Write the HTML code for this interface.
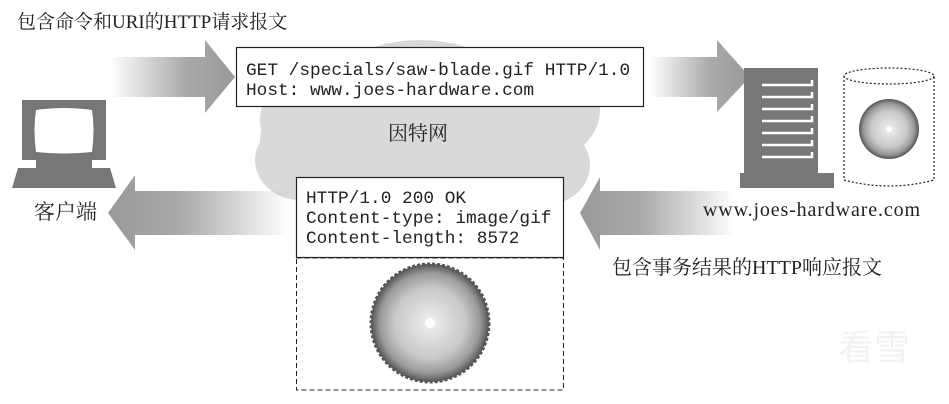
<!DOCTYPE html>
<html><head><meta charset="utf-8"><style>
html,body{margin:0;padding:0;background:#fff;}
svg{display:block;}
.s{font-family:"Liberation Serif","Noto Serif CJK SC",serif;fill:#222;}
.m{font-family:"Liberation Mono",monospace;font-size:17.8px;fill:#222;}
</style></head><body>
<svg width="949" height="404" viewBox="0 0 949 404" xmlns="http://www.w3.org/2000/svg">
<defs>
<linearGradient id="gr" x1="0" x2="1"><stop offset="0" stop-color="#aaa" stop-opacity="0"/><stop offset="0.6" stop-color="#aaa"/><stop offset="1" stop-color="#999"/></linearGradient>
<linearGradient id="gl" x1="1" x2="0"><stop offset="0" stop-color="#aaa" stop-opacity="0"/><stop offset="0.6" stop-color="#aaa"/><stop offset="1" stop-color="#999"/></linearGradient>
<radialGradient id="saw" cx="0.5" cy="0.5" r="0.5"><stop offset="0" stop-color="#f0f0f0"/><stop offset="0.6" stop-color="#c8c8c8"/><stop offset="0.85" stop-color="#999"/><stop offset="1" stop-color="#555"/></radialGradient>
</defs>
<text class="s" x="17" y="28" font-size="19">包含命令和URI的HTTP请求报文</text>
<!-- cloud -->
<g fill="#d9d9d9">
<ellipse cx="420" cy="140" rx="160" ry="70"/>
<ellipse cx="330" cy="120" rx="70" ry="55"/>
<ellipse cx="420" cy="90" rx="90" ry="50"/>
<ellipse cx="530" cy="110" rx="70" ry="55"/>
<ellipse cx="300" cy="160" rx="45" ry="40"/>
<ellipse cx="545" cy="165" rx="45" ry="40"/>
<ellipse cx="420" cy="190" rx="120" ry="40"/>
</g>
<!-- top left arrow -->
<path d="M110 57 H205 V40 L235 77 L205 113 V97 H110 Z" fill="url(#gr)"/>
<!-- top right arrow -->
<path d="M650 57 H717 V40 L750 77 L717 112 V97 H650 Z" fill="url(#gr)"/>
<!-- bottom left arrow -->
<path d="M290 191 H135 V175 L108 213 L135 250 V235 H290 Z" fill="url(#gl)"/>
<!-- bottom right arrow -->
<path d="M735 191 H600 V177 L580 213 L600 250 V235 H735 Z" fill="url(#gl)"/>
<!-- request box -->
<rect x="236.5" y="47.5" width="407" height="59" fill="#fff" stroke="#222" stroke-width="1.2"/>
<text class="m" x="246" y="75">GET /specials/saw-blade.gif HTTP/1.0</text>
<text class="m" x="246" y="95">Host: www.joes-hardware.com</text>
<text class="s" x="388" y="140" font-size="20">因特网</text>
<!-- response box -->
<rect x="296.5" y="177.5" width="267" height="80" fill="#fff" stroke="#222" stroke-width="1.2"/>
<text class="m" x="306" y="203">HTTP/1.0 200 OK</text>
<text class="m" x="306" y="223">Content-type: image/gif</text>
<text class="m" x="306" y="243">Content-length: 8572</text>
<rect x="296.5" y="258" width="267" height="132" fill="none" stroke="#222" stroke-dasharray="5,3"/>
<circle cx="430" cy="323" r="59" fill="url(#saw)" stroke="#555" stroke-width="3" stroke-dasharray="3,2"/>
<circle cx="430" cy="323" r="5" fill="#fff"/>
<!-- monitor -->
<g fill="#777">
<path d="M22 100 H106 V160 H22 Z"/>
<rect x="36" y="160" width="56" height="8"/>
<path d="M18 168 H110 L116 188 H12 Z"/>
</g>
<path d="M36 110 Q64 106 92 110 Q95 130 92 152 Q64 155 36 152 Q33 130 36 110 Z" fill="#fff"/>
<text class="s" x="34" y="219" font-size="21">客户端</text>
<!-- server -->
<g fill="#777">
<rect x="744" y="68" width="74" height="105"/>
<rect x="740" y="173" width="94" height="15"/>
</g>
<g stroke="#fff" stroke-width="2.5" fill="none">
<path d="M762 85 H812 V80"/><path d="M762 97 H812 V92"/><path d="M762 109 H812 V104"/><path d="M762 121 H812 V116"/><path d="M762 133 H812 V128"/><path d="M762 145 H812 V140"/><path d="M762 157 H812 V152"/>
</g>
<!-- cylinder -->
<g fill="none" stroke="#222" stroke-dasharray="2,2" stroke-width="1.2">
<ellipse cx="889" cy="76" rx="45" ry="8"/>
<path d="M844 76 V180 Q889 192 934 180 V76"/>
</g>
<circle cx="889" cy="129" r="30" fill="url(#saw)"/>
<circle cx="889" cy="129" r="3" fill="#fff"/>
<text class="s" x="703" y="216" font-size="20" textLength="217">www.joes-hardware.com</text>
<text class="s" x="612" y="274" font-size="20">包含事务结果的HTTP响应报文</text>
<text x="838" y="360" font-family="Noto Sans CJK SC,sans-serif" font-size="36" fill="#f2f2f2">看雪</text>
</svg>
</body></html>
